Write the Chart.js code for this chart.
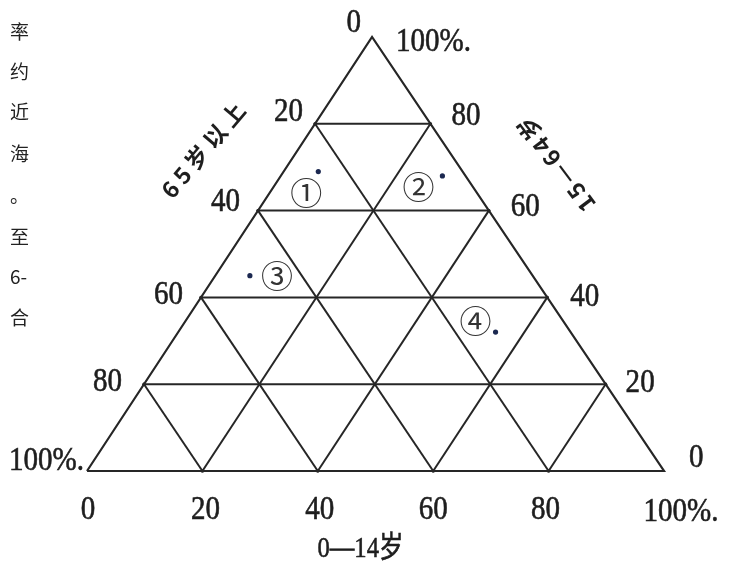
<!DOCTYPE html>
<html>
<head>
<meta charset="utf-8">
<script src="https://cdn.jsdelivr.net/npm/chart.js@4.4.1/dist/chart.umd.min.js"></script>
<style>
html,body{margin:0;padding:0;background:#fff;}
#wrap{position:relative;width:731px;height:567px;}
</style>
</head>
<body>
<div id="wrap"><canvas id="c" width="731" height="567"></canvas></div>
<script>
// ---------- data ----------
const axisTitles = ['0—14岁', '15—64岁', '65岁以上'];
const gridLevels = [20, 40, 60, 80];
const bottomTickLabels = ['0', '20', '40', '60', '80', '100%.'];   // 0—14岁, left → right
const leftTickLabels   = ['0', '20', '40', '60', '80', '100%.'];   // 65岁以上, apex → bottom-left
const rightTickLabels  = ['100%.', '80', '60', '40', '20', '0'];   // 15—64岁, apex → bottom-right
const pointNames   = ['①', '②', '③', '④'];
const childShare   = [6, 28, 6, 55];    // 0—14岁 %
const workingShare = [69, 68, 45, 32];  // 15—64岁 %
const elderShare   = [25, 4, 49, 13];   // 65岁以上 %
const sideText = ['率', '约', '近', '海', '。', '至', '6-', '合'];

// ---------- layout (not data) ----------
const APEX = 0.494;                       // horizontal position of apex along base
const leftTickOffsets  = [[-11,-14],[-12,-11],[-18,-8],[-18,-2],[-22,-2],[-3,-10]];
const rightTickOffsets = [[24,5],[21,-7],[22,-3],[23,0],[20,-1],[25,-13]];
const bottomTickOffsets= [[1,39],[3,39],[2,39],[0,39],[-3,39],[17,41]];
const pointLabelOffsets= [[-12,21],[-24,11],[27,0],[-20,-11]];
const sideRowsY = [32, 72, 112, 154, 196, 237, 277, 318];

// ternary (0—14岁 a, 15—64岁 b) -> chart data units
function tern(a, b) { return { x: a + APEX * b, y: b }; }

const lineColor = '#262626';
const datasets = [];
// outer triangle
datasets.push({
  data: [tern(0,0), tern(100,0), tern(0,100), tern(0,0)],
  showLine: true, borderColor: lineColor, borderWidth: 2.2, pointRadius: 0, clip: false
});
// grid lines
gridLevels.forEach(k => {
  const common = { showLine:true, borderColor:lineColor, borderWidth:2, pointRadius:1.6, pointBackgroundColor:lineColor, pointBorderWidth:0, clip:false };
  // constant 15—64岁 (horizontal)
  datasets.push(Object.assign({ data: [tern(0,k), tern(100-k,k)] }, common));
  // constant 0—14岁 (parallel to left side)
  datasets.push(Object.assign({ data: [tern(k,0), tern(k,100-k)] }, common));
  // constant 65岁以上 (parallel to right side)
  datasets.push(Object.assign({ data: [tern(100-k,0), tern(0,100-k)] }, common));
});
// sample points
datasets.push({
  data: childShare.map((a,i) => tern(a, workingShare[i])),
  showLine: false, pointRadius: 2.6, pointBackgroundColor: '#1b2850', pointBorderWidth: 0, clip: false
});

function condensedText(ctx, txt, x, y, align, sx) {
  ctx.save();
  ctx.translate(x, y);
  ctx.scale(sx, 1);
  ctx.textAlign = align;
  ctx.fillText(txt, 0, 0);
  ctx.strokeText(txt, 0, 0);
  ctx.restore();
}
function spacedRotated(ctx, txt, cx, cy, angleDeg, spacing) {
  const chars = Array.from(txt);
  const widths = chars.map(ch => ctx.measureText(ch).width);
  const total = widths.reduce((s,w)=>s+w,0) + spacing*(chars.length-1);
  ctx.save();
  ctx.translate(cx, cy);
  ctx.rotate(angleDeg*Math.PI/180);
  ctx.textAlign = 'left';
  let x = -total/2;
  chars.forEach((ch,i) => { ctx.fillText(ch, x, 0); x += widths[i] + spacing; });
  ctx.restore();
}

const textPlugin = {
  id: 'ternaryText',
  afterDatasetsDraw(chart) {
    const ctx = chart.ctx;
    const xs = chart.scales.x, ys = chart.scales.y;
    const px = p => ({ x: xs.getPixelForValue(p.x), y: ys.getPixelForValue(p.y) });
    ctx.save();
    ctx.fillStyle = '#1e1e1e';
    ctx.strokeStyle = '#1e1e1e';
    ctx.lineWidth = 0.6;
    ctx.textBaseline = 'middle';
    ctx.font = '33px "Liberation Serif", "DejaVu Serif", serif';
    // left side ticks (65岁以上)
    leftTickLabels.forEach((t,i) => {
      const p = px(tern(0, 100 - i*20));
      condensedText(ctx, t, p.x + leftTickOffsets[i][0], p.y + leftTickOffsets[i][1], 'right', 0.88);
    });
    // right side ticks (15—64岁)
    rightTickLabels.forEach((t,i) => {
      const b = 100 - i*20;
      const p = px(tern(100 - b, b));
      condensedText(ctx, t, p.x + rightTickOffsets[i][0], p.y + rightTickOffsets[i][1], 'left', 0.88);
    });
    // bottom ticks (0—14岁)
    bottomTickLabels.forEach((t,i) => {
      const p = px(tern(i*20, 0));
      condensedText(ctx, t, p.x + bottomTickOffsets[i][0], p.y + bottomTickOffsets[i][1], 'center', 0.88);
    });
    // bottom title
    ctx.font = '30px "Liberation Serif", "Noto Sans CJK SC", serif';
    const base = px(tern(50, 0));
    condensedText(ctx, axisTitles[0], base.x - 15, base.y + 78, 'center', 0.82);
    // side titles
    ctx.font = 'bold 23px "Noto Sans CJK SC", "DejaVu Sans", sans-serif';
    const leftMid = px(tern(0, 73));
    spacedRotated(ctx, axisTitles[2], leftMid.x - 92, leftMid.y - 4, -50, 5);
    const rightMid = px(tern(27, 73));
    spacedRotated(ctx, axisTitles[1], rightMid.x + 105, rightMid.y + 10, -127, 3);
    // point labels
    ctx.font = '32px "Noto Sans CJK SC", "DejaVu Sans", sans-serif';
    ctx.fillStyle = '#333';
    ctx.textAlign = 'center';
    pointNames.forEach((n,i) => {
      const p = px(tern(childShare[i], workingShare[i]));
      ctx.fillText(n, p.x + pointLabelOffsets[i][0], p.y + pointLabelOffsets[i][1]);
    });
    // clipped side text column
    ctx.font = '19px "Noto Sans CJK SC", sans-serif';
    ctx.fillStyle = '#222';
    ctx.textAlign = 'left';
    sideText.forEach((t,i) => ctx.fillText(t, 10, sideRowsY[i]));
    ctx.restore();
  }
};

new Chart(document.getElementById('c'), {
  type: 'scatter',
  data: { datasets },
  options: {
    responsive: false,
    animation: false,
    devicePixelRatio: 1,
    layout: { padding: { left: 87, right: 67, top: 37, bottom: 96 } },
    scales: {
      x: { type: 'linear', min: 0, max: 100, display: false },
      y: { type: 'linear', min: 0, max: 100, display: false }
    },
    plugins: { legend: { display: false }, tooltip: { enabled: false } },
    elements: { line: { tension: 0 } }
  },
  plugins: [textPlugin]
});
</script>
</body>
</html>
